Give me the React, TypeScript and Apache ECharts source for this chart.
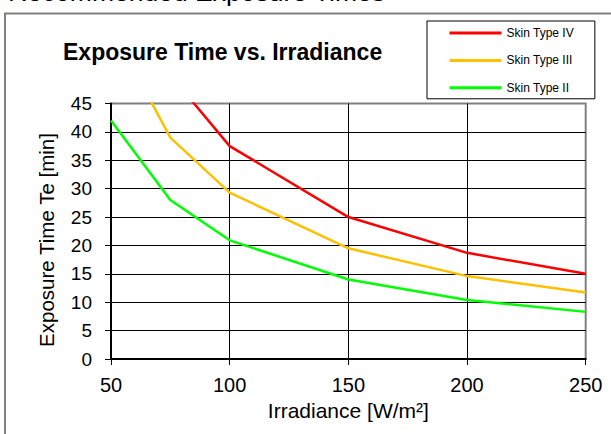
import React, { useEffect, useRef } from "react";
import * as echarts from "echarts";

const irradiance = [50, 75, 100, 150, 200, 250];
const skinTypeIV = [75, 50, 37.5, 25, 18.7, 15];
const skinTypeIII = [58.5, 39, 29.3, 19.5, 14.6, 11.7];
const skinTypeII = [42, 28, 20.9, 14, 10.4, 8.3];
const seriesNames = ["Skin Type IV", "Skin Type III", "Skin Type II"];
const seriesColors = ["#FF0000", "#FFC000", "#00FF00"];
const yTicks = { min: 0, max: 45, interval: 5 };
const xTicks = { min: 50, max: 250, interval: 50 };

const FONT = "Arial, 'Liberation Sans', sans-serif";

export default function App() {
  const ref = useRef<HTMLDivElement>(null);
  useEffect(() => {
    if (!ref.current) return;
    const chart = echarts.init(ref.current, null, { renderer: "svg" });
    const values = [skinTypeIV, skinTypeIII, skinTypeII];
    chart.setOption({
      animation: false,
      backgroundColor: "#ffffff",
      textStyle: { fontFamily: FONT },
      title: {
        text: "Exposure Time vs. Irradiance",
        left: 63,
        top: 40,
        padding: 0,
        textStyle: { fontSize: 23, fontWeight: "bold", color: "#000", fontFamily: FONT },
      },
      graphic: [
        {
          type: "rect",
          shape: { x: 5, y: 13.5, width: 640, height: 460 },
          style: { fill: "none", stroke: "#808080", lineWidth: 2 },
          silent: true,
          z: -1,
        },
        {
          type: "text",
          x: 8,
          y: -8,
          style: {
            text: "Recommended Exposure Times",
            fontSize: 26.5,
            fontFamily: FONT,
            fill: "#000",
            verticalAlign: "middle",
          },
          silent: true,
        },
        {
          type: "text",
          x: 46.5,
          y: 240,
          rotation: Math.PI / 2,
          style: {
            text: "Exposure Time Te [min]",
            fontSize: 20.5,
            fontFamily: FONT,
            fill: "#000",
            align: "center",
            verticalAlign: "middle",
          },
          silent: true,
        },
      ],
      legend: {
        orient: "vertical",
        left: 427,
        top: 21,
        padding: [6, 21, 5, 21],
        itemWidth: 52,
        itemHeight: 14,
        itemGap: 15.4,
        backgroundColor: "#ffffff",
        borderColor: "#000000",
        borderWidth: 1,
        borderRadius: 0,
        data: seriesNames,
        itemStyle: { opacity: 0 },
        lineStyle: { width: 3 },
        textStyle: { fontSize: 12, color: "#000", fontFamily: FONT },
      },
      grid: {
        left: 111,
        right: 25.3,
        top: 103.5,
        bottom: 75,
        show: true,
        borderColor: "#808080",
        borderWidth: 2,
        backgroundColor: "transparent",
      },
      xAxis: {
        type: "value",
        min: xTicks.min,
        max: xTicks.max,
        interval: xTicks.interval,
        name: "Irradiance [W/m²]",
        nameLocation: "middle",
        nameGap: 41,
        nameTextStyle: { fontSize: 21, color: "#000", fontFamily: FONT },
        axisLine: { show: true, lineStyle: { color: "#000", width: 2 } },
        axisTick: { show: true, length: 6, lineStyle: { color: "#000", width: 1 } },
        axisLabel: { fontSize: 20, color: "#000", margin: 16, fontFamily: FONT },
        splitLine: {
          show: true,
          showMinLine: false,
          showMaxLine: false,
          lineStyle: { color: "#000", width: 1 },
        },
      },
      yAxis: {
        type: "value",
        min: yTicks.min,
        max: yTicks.max,
        interval: yTicks.interval,
        axisLine: { show: true, lineStyle: { color: "#000", width: 2 } },
        axisTick: { show: true, length: 6, lineStyle: { color: "#000", width: 1 } },
        axisLabel: { fontSize: 19, color: "#000", margin: 19, fontFamily: FONT },
        splitLine: {
          show: true,
          showMinLine: false,
          showMaxLine: false,
          lineStyle: { color: "#000", width: 1 },
        },
      },
      series: seriesNames.map((name, i) => ({
        name,
        type: "line",
        data: irradiance.map((x, j) => [x, values[i][j]]),
        symbol: "none",
        showSymbol: false,
        clip: true,
        color: seriesColors[i],
        lineStyle: { color: seriesColors[i], width: 2.5 },
      })),
    });
    return () => chart.dispose();
  }, []);
  return (
    <div
      ref={ref}
      style={{ position: "fixed", left: 0, top: 0, width: 611, height: 434 }}
    />
  );
}
